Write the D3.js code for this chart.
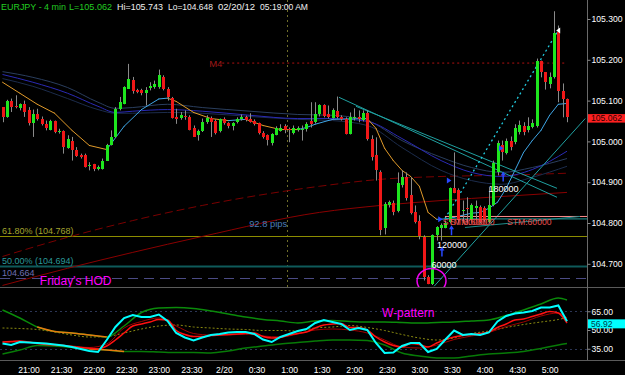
<!DOCTYPE html>
<html>
<head>
<meta charset="utf-8">
<script src="https://cdn.jsdelivr.net/npm/d3@7"></script>
<style>
  body { margin: 0; background: #000; }
  svg { display: block; font-family: Arial, "Liberation Sans", sans-serif; }
</style>
</head>
<body>
<div id="chart"></div>
<script>
// EURJPY 4 min bars, first bar 20:36 (minutes counted from 21:00)
const barStart = -24;
const barStep = 4;

const open = [
  105.084, 105.059, 105.098, 105.087, 105.081, 105.092, 105.076, 105.043, 105.068, 105.055,
  105.043, 105.029, 105.050, 105.023, 105.025, 104.986, 105.002, 104.980, 104.966, 104.966,
  104.939, 104.944, 104.933, 104.933, 104.953, 104.992, 105.011, 105.080, 105.092, 105.129,
  105.151, 105.127, 105.125, 105.118, 105.129, 105.133, 105.133, 105.159, 105.129, 105.107,
  105.061, 105.056, 105.063, 105.061, 105.034, 105.015, 105.025, 105.047, 105.058, 105.051,
  105.025, 105.054, 105.044, 105.037, 105.047, 105.054, 105.059, 105.056, 105.051, 105.044,
  105.020, 105.015, 104.995, 105.017, 105.027, 105.037, 105.030, 105.020, 105.027, 105.030,
  105.029, 105.051, 105.047, 105.066, 105.088, 105.066, 105.059, 105.074, 105.061, 105.056,
  105.020, 105.059, 105.061, 105.051, 105.069, 105.005, 104.966, 104.924, 104.787, 104.843,
  104.848, 104.828, 104.892, 104.912, 104.868, 104.826, 104.806, 104.765, 104.667, 104.650,
  104.770, 104.787, 104.789, 104.801, 104.887, 104.880, 104.831, 104.836, 104.806, 104.836,
  104.838, 104.836, 104.801, 104.843, 104.924, 104.990, 104.973, 105.002, 104.998, 105.022,
  105.037, 105.027, 105.034, 105.037, 105.196, 105.169, 105.142, 105.157, 105.267, 105.123,
  105.105
];
const high = [
  105.084, 105.102, 105.105, 105.113, 105.093, 105.100, 105.084, 105.078, 105.080, 105.061,
  105.051, 105.053, 105.051, 105.031, 105.027, 105.015, 105.011, 104.986, 104.970, 104.970,
  104.949, 104.945, 104.941, 104.958, 104.994, 105.027, 105.084, 105.109, 105.135, 105.190,
  105.158, 105.129, 105.129, 105.133, 105.145, 105.149, 105.176, 105.162, 105.133, 105.109,
  105.080, 105.072, 105.076, 105.064, 105.039, 105.029, 105.056, 105.064, 105.061, 105.054,
  105.056, 105.059, 105.047, 105.047, 105.059, 105.066, 105.063, 105.069, 105.054, 105.046,
  105.025, 105.017, 105.020, 105.037, 105.042, 105.042, 105.034, 105.039, 105.037, 105.039,
  105.047, 105.096, 105.096, 105.091, 105.091, 105.088, 105.081, 105.110, 105.064, 105.059,
  105.071, 105.081, 105.076, 105.076, 105.076, 105.015, 105.010, 104.929, 104.851, 104.855,
  104.855, 104.924, 104.929, 104.924, 104.912, 104.843, 104.819, 104.770, 104.672, 104.772,
  104.792, 104.799, 104.806, 104.887, 104.973, 104.885, 104.855, 104.863, 104.848, 104.855,
  104.843, 104.841, 104.887, 104.953, 105.002, 105.002, 105.007, 105.012, 105.042, 105.051,
  105.047, 105.059, 105.054, 105.203, 105.198, 105.169, 105.169, 105.319, 105.284, 105.142,
  105.105
];
const low = [
  105.047, 105.058, 105.072, 105.081, 105.076, 105.060, 105.039, 105.011, 105.051, 105.039,
  105.027, 105.027, 105.020, 105.019, 104.970, 104.982, 104.953, 104.962, 104.958, 104.936,
  104.929, 104.927, 104.929, 104.931, 104.952, 104.990, 105.009, 105.076, 105.091, 105.129,
  105.117, 105.118, 105.113, 105.088, 105.125, 105.129, 105.129, 105.125, 105.100, 105.056,
  105.043, 105.053, 105.053, 105.027, 105.011, 105.002, 105.023, 105.043, 105.011, 105.017,
  105.022, 105.041, 105.032, 105.027, 105.044, 105.051, 105.049, 105.046, 105.039, 105.017,
  105.007, 104.990, 104.990, 105.015, 105.024, 105.020, 104.998, 105.017, 105.024, 105.002,
  105.024, 105.034, 105.044, 105.061, 105.059, 105.056, 105.056, 105.056, 105.051, 105.017,
  105.017, 105.051, 105.047, 105.049, 105.002, 104.953, 104.904, 104.770, 104.772, 104.838,
  104.819, 104.826, 104.887, 104.855, 104.821, 104.799, 104.760, 104.659, 104.650, 104.648,
  104.757, 104.757, 104.787, 104.799, 104.873, 104.801, 104.799, 104.801, 104.801, 104.806,
  104.799, 104.803, 104.799, 104.841, 104.917, 104.953, 104.968, 104.978, 104.993, 105.017,
  105.015, 105.022, 105.032, 105.034, 105.157, 105.127, 105.130, 105.154, 105.096, 105.059,
  105.047
];
const close = [
  105.059, 105.098, 105.084, 105.084, 105.091, 105.072, 105.043, 105.066, 105.055, 105.043,
  105.034, 105.050, 105.023, 105.025, 104.986, 105.007, 104.980, 104.966, 104.960, 104.937,
  104.941, 104.931, 104.937, 104.953, 104.992, 105.011, 105.080, 105.096, 105.133, 105.154,
  105.125, 105.123, 105.117, 105.125, 105.135, 105.141, 105.162, 105.129, 105.109, 105.058,
  105.056, 105.064, 105.060, 105.029, 105.012, 105.025, 105.047, 105.058, 105.047, 105.022,
  105.054, 105.044, 105.037, 105.044, 105.055, 105.059, 105.051, 105.049, 105.044, 105.020,
  105.010, 105.002, 105.017, 105.034, 105.034, 105.027, 105.029, 105.032, 105.032, 105.031,
  105.042, 105.044, 105.066, 105.088, 105.061, 105.059, 105.078, 105.059, 105.056, 105.020,
  105.061, 105.061, 105.056, 105.069, 105.005, 104.961, 104.929, 104.782, 104.846, 104.851,
  104.826, 104.897, 104.912, 104.860, 104.824, 104.801, 104.770, 104.667, 104.650, 104.770,
  104.789, 104.794, 104.801, 104.885, 104.875, 104.806, 104.833, 104.835, 104.843, 104.841,
  104.801, 104.806, 104.843, 104.946, 104.995, 104.973, 105.002, 104.988, 105.032, 105.039,
  105.022, 105.037, 105.044, 105.196, 105.169, 105.145, 105.159, 105.265, 105.123, 105.103,
  105.062
];

// short moving average (drawn orange when falling, light blue when rising)
const maFastIdx = [0, 4, 8, 12, 16, 20, 24, 28, 32, 36, 38, 40, 44, 48, 52, 56, 60, 64, 68, 70, 72, 76, 80, 84,
  86, 88, 90, 92, 94, 96, 98, 100, 102, 104, 106, 108, 110, 112, 114, 116, 118, 120, 122, 124, 126, 128, 130];
const maFast = [105.145, 105.118, 105.091, 105.069, 105.027, 104.990, 104.980, 105.037, 105.078, 105.104, 105.106,
  105.098, 105.071, 105.056, 105.051, 105.054, 105.039, 105.029, 105.029, 105.034, 105.042, 105.054, 105.055, 105.056,
  105.032, 104.983, 104.953, 104.929, 104.914, 104.890, 104.826, 104.809, 104.810, 104.814, 104.819, 104.824,
  104.826, 104.836, 104.851, 104.885, 104.929, 104.973, 105.002, 105.027, 105.064, 105.091, 105.093];

// the three blue moving averages
const maMidIdx = [0, 7, 15, 22, 26, 30, 38, 46, 57, 68, 76, 84, 92, 101, 108, 115, 122, 130];
const maSlate = [105.171, 105.157, 105.132, 105.096, 105.081, 105.083, 105.091, 105.083, 105.074, 105.066,
  105.064, 105.051, 105.002, 104.961, 104.936, 104.924, 104.936, 104.958];
const maBlue = [105.164, 105.145, 105.118, 105.086, 105.071, 105.074, 105.078, 105.074, 105.064, 105.056,
  105.056, 105.049, 105.007, 104.953, 104.924, 104.914, 104.931, 104.976];
const maNavy = [105.154, 105.135, 105.105, 105.078, 105.069, 105.069, 105.071, 105.069, 105.061, 105.054,
  105.051, 105.039, 104.985, 104.929, 104.904, 104.895, 104.912, 104.939];

// two long dark red moving averages
const maSlowIdx = [0, 15, 30, 46, 73, 87, 101, 115, 130];
const maRedDashed = [104.718, 104.765, 104.806, 104.843, 104.890, 104.907, 104.914, 104.917, 104.922];
const maRedSolid = [104.647, 104.689, 104.728, 104.767, 104.826, 104.843, 104.855, 104.865, 104.875];

// oscillator panel
const oscFastIdx = d3.range(0, 131, 2);
const oscCyan = [
  39.2, 38.0, 40.4, 40.0, 39.6, 39.2, 38.4, 37.6, 36.4, 34.8,
  33.2, 32.4, 42.0, 52.4, 59.6, 62.0, 60.4, 60.4, 62.4, 57.2,
  47.6, 44.0, 41.6, 44.0, 46.0, 46.8, 48.0, 48.4, 48.4, 46.8,
  42.4, 40.4, 44.4, 46.8, 49.2, 50.8, 55.6, 58.0, 56.4, 54.8,
  50.0, 51.6, 50.0, 39.6, 31.6, 32.0, 37.2, 39.6, 39.6, 32.4,
  34.8, 42.4, 49.6, 46.0, 46.8, 46.0, 48.0, 56.8, 61.2, 63.2,
  64.0, 65.2, 68.0, 68.0, 69.6, 56.92
];
const oscRed = [
  40.4, 40.8, 41.2, 40.4, 39.2, 38.4, 38.0, 37.6, 36.8, 36.0,
  35.4, 34.8, 37.2, 42.0, 47.6, 53.2, 54.8, 56.4, 58.4, 58.0,
  49.6, 46.4, 44.8, 44.8, 45.6, 46.0, 46.4, 46.8, 47.2, 47.6,
  44.8, 43.6, 44.0, 46.0, 47.2, 48.4, 51.6, 54.0, 54.8, 55.2,
  52.0, 52.0, 50.0, 44.4, 40.4, 37.6, 36.4, 39.2, 38.4, 36.4,
  39.6, 42.4, 44.4, 45.6, 46.4, 47.2, 48.4, 52.0, 54.8, 58.0,
  58.8, 60.8, 62.8, 64.8, 63.6, 55.6
];
const oscSlowIdx = d3.range(0, 129, 4).concat([130]);
const oscDarkRed = [40.4, 40.4, 39.6, 38.4, 37.2, 36.0, 38.8, 51.6, 56.8, 59.6, 53.2, 47.2, 46.0, 46.0, 46.8, 45.2, 44.4,
  46.8, 50.0, 50.8, 50.0, 47.6, 42.0, 36.4, 35.6, 38.0, 42.4, 45.2, 48.0, 52.8, 56.4, 61.2, 63.6, 59.6];
const oscMid = [51.6, 51.2, 50.4, 48.4, 46.0, 44.4, 44.8, 47.6, 50.8, 53.2, 54.0, 52.4, 51.6, 50.8, 50.4, 49.6, 49.6,
  49.2, 51.6, 52.4, 53.6, 52.0, 49.6, 46.4, 43.6, 42.0, 43.6, 47.2, 49.2, 52.0, 54.4, 56.4, 58.4, 60.0];
const bandUpper = [66.0, 59.6, 52.4, 48.8, 47.6, 46.0, 44.4, 53.2, 64.0, 67.6, 68.0, 67.2, 65.2, 62.8, 60.4, 58.4, 57.2,
  55.6, 57.2, 57.6, 56.8, 56.4, 56.4, 56.0, 55.6, 56.0, 56.4, 57.2, 58.0, 61.6, 66.0, 70.8, 75.6, 74.0];
const bandLower = [30.8, 34.0, 37.6, 37.2, 36.0, 34.8, 34.0, 32.8, 32.8, 32.4, 32.0, 32.0, 31.6, 33.2, 35.6, 37.2, 38.8,
  40.0, 41.2, 42.0, 42.0, 41.6, 38.0, 31.6, 29.2, 27.6, 27.6, 29.2, 30.8, 31.6, 32.8, 35.2, 38.0, 39.2];
const bandUpperOrange = [8, 24];
const bandLowerOrange = [20, 28];

// axis ticks
const timeTicks = d3.range(0, 481, 30);
const timeLabels = ["21:00", "21:30", "22:00", "22:30", "23:00", "23:30", "2/20", "0:30", "1:00",
  "1:30", "2:00", "2:30", "3:00", "3:30", "4:00", "4:30", "5:00"];
const priceTicks = [104.7, 104.8, 104.9, 105.0, 105.1, 105.2, 105.3];
const oscTicks = [35, 50, 65];

// drawn annotations (bar index / price)
const levels = [
  { p: 104.768, text: "61.80% (104.768)" },
  { p: 104.694, text: "50.00% (104.694)" },
  { p: 104.664, text: "104.664" }
];
const m4Level = 105.192;
const trendLines = [
  { i0: 77.5, p0: 105.108, i1: 127.7, p1: 104.863 },
  { i0: 81.4, p0: 105.086, i1: 127.7, p1: 104.885 },
  { i0: 99.4, p0: 104.645, i1: 134.2, p1: 105.056 }
];
const dottedLine = { i0: 101.9, p0: 104.811, i1: 127.7, p1: 105.267 };
const stmLevels = [104.816, 104.810];
const upArrows = [{ i: 101.2, p: 104.718 }, { i: 103.4, p: 104.770 }, { i: 115.3, p: 104.902 }];
const rightMarks = [{ i: 100.8, p: 104.809 }, { i: 102.8, p: 104.904 }, { i: 114.8, p: 104.983 }];
const volumeNotes = [
  { i: 115.4, p: 104.885, text: "180000" },
  { i: 103.5, p: 104.747, text: "120000" },
  { i: 101.7, p: 104.698, text: "60000" }
];

// Declare the chart dimensions.
const width = 625;
const height = 375;
const axisAt = 587;
const priceBottom = 287;
const oscBottom = 360;

// Declare the scales.
const x = d3.scaleLinear().domain([-24, 496]).range([2.5, 567]);
const barX = i => x(barStart + barStep * i);
const y = d3.scaleLinear().domain([104.7, 105.3]).range([263.8, 19]);
const yo = d3.scaleLinear().domain([35, 65]).range([348.75, 311.25]);

// Create the SVG container.
const svg = d3.create("svg")
    .attr("width", width)
    .attr("height", height);

svg.append("rect").attr("width", width).attr("height", height).attr("fill", "#000");

const defs = svg.append("defs");
defs.append("clipPath").attr("id", "clipPrice")
  .append("rect").attr("x", 0).attr("y", 0).attr("width", axisAt).attr("height", priceBottom);
defs.append("clipPath").attr("id", "clipOsc")
  .append("rect").attr("x", 0).attr("y", priceBottom + 1).attr("width", axisAt).attr("height", oscBottom - priceBottom - 1);

const gp = svg.append("g").attr("clip-path", "url(#clipPrice)");
const go = svg.append("g").attr("clip-path", "url(#clipOsc)");

// vertical session marker
gp.append("line")
    .attr("x1", Math.round(barX(65.5)) + 0.5).attr("x2", Math.round(barX(65.5)) + 0.5)
    .attr("y1", 0).attr("y2", priceBottom)
    .attr("stroke", "#6e6e2a").attr("stroke-dasharray", "2,3");

// fibonacci / reference levels
const levelStyle = [
  { line: "#8c8c00", text: "#a3a32e", w: 1, dash: null },
  { line: "#0e5a5a", text: "#2a9a9a", w: 2, dash: null },
  { line: "#4b4b85", text: "#6e6eb0", w: 1, dash: "10,6" }
];
levels.forEach((d, k) => {
  const yy = Math.round(y(d.p)) + 0.5;
  gp.append("line").attr("x1", 0).attr("x2", axisAt).attr("y1", yy).attr("y2", yy)
    .attr("stroke", levelStyle[k].line).attr("stroke-width", levelStyle[k].w)
    .attr("stroke-dasharray", levelStyle[k].dash);
  gp.append("text").attr("x", 2).attr("y", yy - 3)
    .attr("font-size", 9).attr("fill", levelStyle[k].text).text(d.text);
});

// M4 level
gp.append("line")
    .attr("x1", barX(50.6)).attr("x2", barX(130)).attr("y1", y(m4Level)).attr("y2", y(m4Level))
    .attr("stroke", "#b01010").attr("stroke-dasharray", "2,3");
gp.append("text").attr("x", barX(47.6)).attr("y", y(m4Level) + 3.5)
    .attr("font-size", 9.5).attr("fill", "#a01818").text("M4");

// long moving averages
const lineOf = (idx, yScale) => d3.line()
    .x((d, k) => barX(idx[k]))
    .y(d => yScale(d))
    .curve(d3.curveMonotoneX);

gp.append("path").attr("d", lineOf(maSlowIdx, y)(maRedDashed))
    .attr("fill", "none").attr("stroke", "#7a0000").attr("stroke-dasharray", "8,4");
gp.append("path").attr("d", lineOf(maSlowIdx, y)(maRedSolid))
    .attr("fill", "none").attr("stroke", "#8a0000");

[[maSlate, "#2a3e5e"], [maNavy, "#1c2c4c"], [maBlue, "#2a2ab4"]].forEach(([s, c]) => {
  gp.append("path").attr("d", lineOf(maMidIdx, y)(s))
    .attr("fill", "none").attr("stroke", c);
});

// short moving average, coloured by slope
d3.pairs(maFastIdx.map((d, k) => [d, maFast[k]])).forEach(([a, b]) => {
  gp.append("line")
    .attr("x1", barX(a[0])).attr("y1", y(a[1]))
    .attr("x2", barX(b[0])).attr("y2", y(b[1]))
    .attr("stroke", b[1] > a[1] ? "#3fa6e6" : "#e09a2a")
    .attr("stroke-linecap", "round");
});

// trend lines
trendLines.forEach(d => {
  gp.append("line")
    .attr("x1", barX(d.i0)).attr("y1", y(d.p0))
    .attr("x2", barX(d.i1)).attr("y2", y(d.p1))
    .attr("stroke", "#1fa0a0");
});
gp.append("line")
    .attr("x1", barX(dottedLine.i0)).attr("y1", y(dottedLine.p0))
    .attr("x2", barX(dottedLine.i1)).attr("y2", y(dottedLine.p1))
    .attr("stroke", "#22cce0").attr("stroke-width", 1.3).attr("stroke-dasharray", "2,3");

// STM levels
gp.append("line").attr("x1", barX(101.9)).attr("x2", axisAt)
    .attr("y1", y(stmLevels[0])).attr("y2", y(stmLevels[0])).attr("stroke", "#ff8c8c");
gp.append("line").attr("x1", barX(101.9)).attr("x2", axisAt)
    .attr("y1", y(stmLevels[1])).attr("y2", y(stmLevels[1])).attr("stroke", "#1e9a9a");
gp.append("line").attr("x1", barX(106.5)).attr("x2", barX(133))
    .attr("y1", y(104.789)).attr("y2", y(104.816)).attr("stroke", "#1e8c8c");

// candles
const bars = open.map((o, i) => ({
  i, o, c: close[i],
  h: Math.max(high[i], o, close[i]),
  l: Math.min(low[i], o, close[i])
}));

gp.append("g")
  .selectAll("line")
  .data(bars)
  .join("line")
    .attr("x1", d => Math.round(barX(d.i)) + 0.5)
    .attr("x2", d => Math.round(barX(d.i)) + 0.5)
    .attr("y1", d => y(d.h))
    .attr("y2", d => y(d.l))
    .attr("stroke", "#8a8a8a");

gp.append("g")
  .selectAll("rect")
  .data(bars)
  .join("rect")
    .attr("x", d => Math.round(barX(d.i)) - 1)
    .attr("width", 3)
    .attr("y", d => Math.round(y(Math.max(d.o, d.c))))
    .attr("height", d => Math.max(1, Math.round(Math.abs(y(d.o) - y(d.c)))))
    .attr("fill", d => d.c >= d.o ? "#1ee61e" : "#f01818");

// STM text
[101.4, 103.1, 116.2].forEach(i => {
  gp.append("text").attr("x", barX(i)).attr("y", y(104.804) + 3.5)
    .attr("font-size", 8.6).attr("fill", "#e85050").text("STM:60000");
});

// signal markers
upArrows.forEach(d => {
  const cx = barX(d.i), y0 = y(d.p);
  gp.append("line").attr("x1", cx).attr("x2", cx).attr("y1", y0).attr("y2", y0 - 7)
    .attr("stroke", "#2848ff").attr("stroke-width", 1.5);
  gp.append("path").attr("d", `M${cx - 2.5},${y0 - 6}L${cx},${y0 - 10}L${cx + 2.5},${y0 - 6}Z`).attr("fill", "#2848ff");
});
rightMarks.forEach(d => {
  const cx = barX(d.i), cy = y(d.p);
  gp.append("path").attr("d", `M${cx - 2},${cy - 3}L${cx + 2.5},${cy}L${cx - 2},${cy + 3}Z`).attr("fill", "#2848ff");
});
gp.append("path")
    .attr("d", `M${barX(128.2) - 3},${y(105.272)}L${barX(128.2) + 1},${y(105.272) - 3}L${barX(128.2) + 1},${y(105.272) + 3}Z`)
    .attr("fill", "#ffffff");

volumeNotes.forEach(d => {
  gp.append("text").attr("x", barX(d.i)).attr("y", y(d.p) + 3.5)
    .attr("text-anchor", "middle").attr("font-size", 9).attr("fill", "#ffffff").text(d.text);
});

gp.append("text").attr("x", barX(56.8)).attr("y", y(104.799) + 3.5)
    .attr("font-size", 9.4).attr("fill", "#4a7cb8").text("92.8 pips");
gp.append("text").attr("x", barX(8.6)).attr("y", y(104.659) + 4.5)
    .attr("font-size", 12).attr("fill", "#ff00ff").text("Friday's HOD");

gp.append("ellipse")
    .attr("cx", barX(98.8)).attr("cy", y(104.658))
    .attr("rx", 14.5).attr("ry", 12.5)
    .attr("fill", "none").attr("stroke", "#ee00ee").attr("stroke-width", 1.5);

// oscillator panel
[65, 35].forEach(v => {
  go.append("line").attr("x1", 0).attr("x2", axisAt)
    .attr("y1", Math.round(yo(v)) + 0.5).attr("y2", Math.round(yo(v)) + 0.5)
    .attr("stroke", "#2c3656").attr("stroke-dasharray", "2,3");
});

go.append("path").attr("d", lineOf(oscSlowIdx, yo)(oscMid))
    .attr("fill", "none").attr("stroke", "#8a8a10").attr("stroke-dasharray", "2,2");
go.append("path").attr("d", lineOf(oscSlowIdx, yo)(bandUpper))
    .attr("fill", "none").attr("stroke", "#0a8a0a").attr("stroke-width", 1.5);
go.append("path").attr("d", lineOf(oscSlowIdx, yo)(bandLower))
    .attr("fill", "none").attr("stroke", "#077a07").attr("stroke-width", 1.5);

const orangePart = (vals, span) => {
  const idx = oscSlowIdx.filter(i => i >= span[0] && i <= span[1]);
  const v = vals.filter((d, k) => oscSlowIdx[k] >= span[0] && oscSlowIdx[k] <= span[1]);
  return lineOf(idx, yo)(v);
};
go.append("path").attr("d", orangePart(bandUpper, bandUpperOrange))
    .attr("fill", "none").attr("stroke", "#e87a10").attr("stroke-width", 1.5);
go.append("path").attr("d", orangePart(bandLower, bandLowerOrange))
    .attr("fill", "none").attr("stroke", "#e87a10").attr("stroke-width", 1.5);

go.append("path").attr("d", lineOf(oscSlowIdx, yo)(oscDarkRed))
    .attr("fill", "none").attr("stroke", "#a00000");
go.append("path").attr("d", lineOf(oscFastIdx, yo)(oscRed))
    .attr("fill", "none").attr("stroke", "#ff1010").attr("stroke-width", 1.5);
go.append("path").attr("d", d3.line().x((d, k) => barX(oscFastIdx[k])).y(d => yo(d))(oscCyan))
    .attr("fill", "none").attr("stroke", "#00ffff").attr("stroke-width", 2);

svg.append("text").attr("x", barX(87.4)).attr("y", yo(64.4) + 4.5)
    .attr("font-size", 12).attr("fill", "#ff00ff").text("W-pattern");

// panel separators and axis line
[priceBottom, oscBottom].forEach(yy => {
  svg.append("line").attr("x1", 0).attr("x2", width).attr("y1", yy + 0.5).attr("y2", yy + 0.5)
    .attr("stroke", "#5a5a5a");
});
svg.append("line").attr("x1", axisAt + 0.5).attr("x2", axisAt + 0.5).attr("y1", 0).attr("y2", oscBottom)
    .attr("stroke", "#6a6a6a");

// Add the price axis.
const yAxis = svg.append("g")
    .attr("transform", `translate(${axisAt + 0.5},0)`)
    .call(d3.axisRight(y).tickValues(priceTicks).tickFormat(d3.format(".3f")).tickSize(3).tickPadding(1));
yAxis.select(".domain").remove();
yAxis.selectAll("line").attr("stroke", "#8a8a8a");
yAxis.selectAll("text").attr("fill", "#ffffff").attr("font-size", 8.6).attr("font-family", "Arial, 'Liberation Sans', sans-serif");

// Add the oscillator axis.
const oAxis = svg.append("g")
    .attr("transform", `translate(${axisAt + 0.5},0)`)
    .call(d3.axisRight(yo).tickValues(oscTicks).tickFormat(d3.format(".2f")).tickSize(3).tickPadding(1));
oAxis.select(".domain").remove();
oAxis.selectAll("line").attr("stroke", "#8a8a8a");
oAxis.selectAll("text").attr("fill", "#ffffff").attr("font-size", 8.6).attr("font-family", "Arial, 'Liberation Sans', sans-serif");

// Add the time axis.
const xAxis = svg.append("g")
    .attr("transform", `translate(0,${oscBottom})`)
    .call(d3.axisBottom(x).tickValues(timeTicks).tickFormat((d, k) => timeLabels[k]).tickSize(0).tickPadding(7));
xAxis.select(".domain").remove();
xAxis.selectAll("text").attr("fill", "#ffffff").attr("font-size", 8.6).attr("font-family", "Arial, 'Liberation Sans', sans-serif");

// last value boxes
const lastClose = close[close.length - 1];
svg.append("rect").attr("x", axisAt + 1).attr("y", y(lastClose) - 2).attr("width", width - axisAt - 1).attr("height", 8.5)
    .attr("fill", "#ff2020");
svg.append("text").attr("x", axisAt + 4).attr("y", y(lastClose) + 5.3)
    .attr("font-size", 8.6).attr("fill", "#2a0000").text(d3.format(".3f")(lastClose));

const lastOsc = oscCyan[oscCyan.length - 1];
svg.append("rect").attr("x", axisAt + 1).attr("y", yo(lastOsc) - 2).attr("width", width - axisAt - 1).attr("height", 9)
    .attr("fill", "#00ffff");
svg.append("text").attr("x", axisAt + 4).attr("y", yo(lastOsc) + 5.5)
    .attr("font-size", 8.6).attr("fill", "#003a4a").text(d3.format(".2f")(lastOsc));

// header
const header = [
  { x: 1, w: 65, text: "EURJPY - 4 min", fill: "#22cc22" },
  { x: 69, w: 43, text: "L=105.062", fill: "#22cc22" },
  { x: 117, w: 46, text: "Hi=105.743", fill: "#f0f0f0" },
  { x: 168, w: 45, text: "Lo=104.648", fill: "#f0f0f0" },
  { x: 218, w: 37, text: "02/20/12", fill: "#f0f0f0" },
  { x: 260, w: 48, text: "05:19:00 AM", fill: "#f0f0f0" }
];
svg.append("g").selectAll("text").data(header).join("text")
    .attr("x", d => d.x).attr("y", 9.5)
    .attr("font-size", 9.4).attr("fill", d => d.fill)
    .attr("textLength", d => d.w).attr("lengthAdjust", "spacingAndGlyphs")
    .text(d => d.text);

// Append the SVG element.
document.getElementById("chart").append(svg.node());
</script>
</body>
</html>
